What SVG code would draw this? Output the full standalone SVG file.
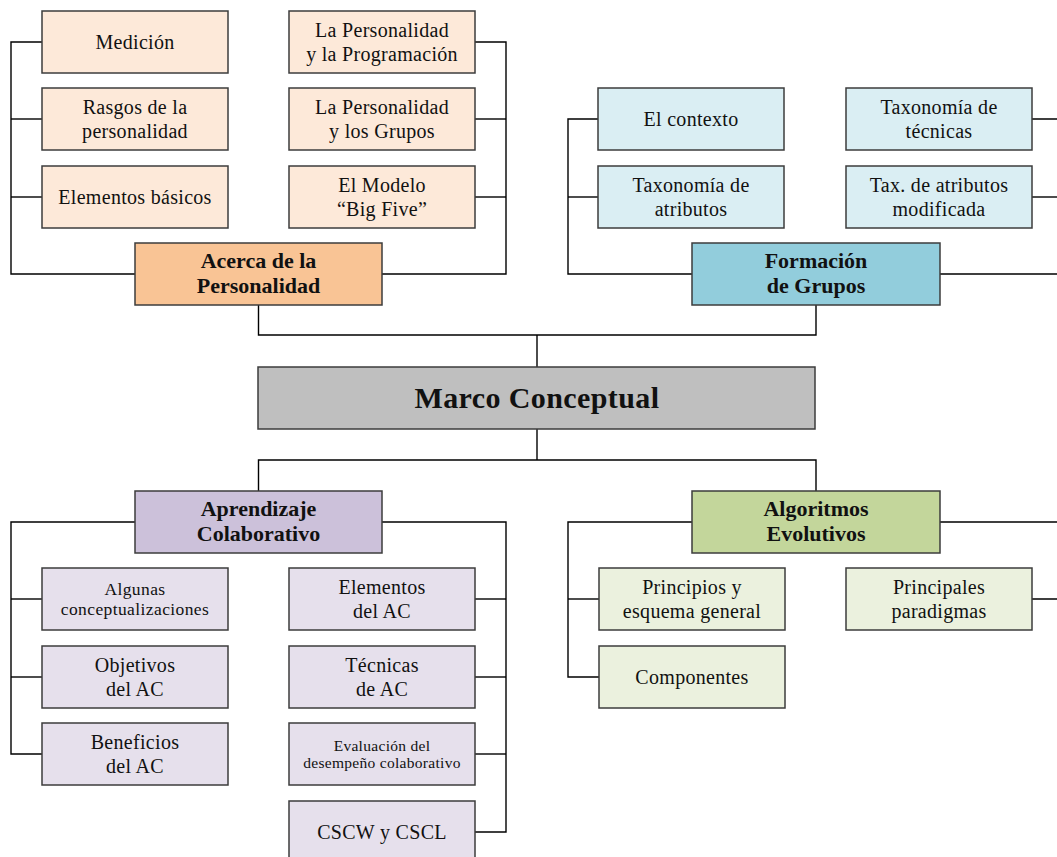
<svg xmlns="http://www.w3.org/2000/svg" width="1057" height="857" viewBox="0 0 1057 857">
  <style>
    .box { stroke: #3c3c3c; stroke-width: 1.5; }
    .conn { fill: none; stroke: #000; stroke-width: 1.4; }
    text { font-family: "Liberation Serif", "DejaVu Serif", serif; fill: #111; text-anchor: middle; }
    .t { font-size: 20px; letter-spacing: 0.3px; }
    .ts { font-size: 17.5px; letter-spacing: 0.4px; }
    .txs { font-size: 15.5px; letter-spacing: 0.3px; }
    .h { font-size: 22px; font-weight: bold; }
    .hm { font-size: 30px; font-weight: bold; letter-spacing: 0.4px; }
    .pers-main { fill: #f9c495; } .pers { fill: #fde9d9; }
    .grp-main { fill: #92cddc; } .grp { fill: #daeef3; }
    .ac-main { fill: #ccc1da; } .ac { fill: #e6e0ec; }
    .ae-main { fill: #c3d69b; } .ae { fill: #ebf1de; }
    .root { fill: #bfbfbf; }
  </style>

  <!-- connectors -->
  <g id="connectors" class="conn">
    <!-- hub -->
    <polyline points="258.5,305 258.5,335 816,335 816,305"/>
    <line x1="537" y1="335" x2="537" y2="367"/>
    <line x1="537" y1="429" x2="537" y2="460"/>
    <polyline points="258.5,491 258.5,460 816,460 816,491"/>
    <!-- Personalidad -->
    <polyline points="135,274 11,274 11,42 42,42"/>
    <line x1="11" y1="119" x2="42" y2="119"/>
    <line x1="11" y1="197" x2="42" y2="197"/>
    <polyline points="382,274 506,274 506,42 475,42"/>
    <line x1="506" y1="119" x2="475" y2="119"/>
    <line x1="506" y1="197" x2="475" y2="197"/>
    <!-- Grupos -->
    <polyline points="692,274 568,274 568,119 598,119"/>
    <line x1="568" y1="197" x2="598" y2="197"/>
    <polyline points="940,274 1062,274 1062,119 1032,119"/>
    <line x1="1062" y1="197" x2="1032" y2="197"/>
    <!-- Aprendizaje Colaborativo -->
    <polyline points="135,522 11,522 11,754 42,754"/>
    <line x1="11" y1="599" x2="42" y2="599"/>
    <line x1="11" y1="677" x2="42" y2="677"/>
    <polyline points="382,522 506,522 506,832 475,832"/>
    <line x1="506" y1="599" x2="475" y2="599"/>
    <line x1="506" y1="677" x2="475" y2="677"/>
    <line x1="506" y1="754" x2="475" y2="754"/>
    <!-- Algoritmos Evolutivos -->
    <polyline points="692,522 568,522 568,677 599,677"/>
    <line x1="568" y1="599" x2="599" y2="599"/>
    <polyline points="940,522 1062,522 1062,599 1032,599"/>
  </g>

  <!-- root -->
  <g id="marco">
    <rect class="box root" x="258" y="367" width="557" height="62"/>
    <text class="hm" x="537" y="408">Marco Conceptual</text>
  </g>

  <!-- Personalidad branch -->
  <g id="acerca">
    <rect class="box pers-main" x="135" y="243" width="247" height="62"/>
    <text class="h" x="258.5" y="267.5">Acerca de la</text>
    <text class="h" x="258.5" y="293">Personalidad</text>
  </g>
  <g id="medicion">
    <rect class="box pers" x="42" y="11" width="186" height="62"/>
    <text class="t" x="135" y="48.5">Medición</text>
  </g>
  <g id="rasgos">
    <rect class="box pers" x="42" y="88" width="186" height="62"/>
    <text class="t" x="135" y="113.5">Rasgos de la</text>
    <text class="t" x="135" y="137.5">personalidad</text>
  </g>
  <g id="elementos-basicos">
    <rect class="box pers" x="42" y="166" width="186" height="62"/>
    <text class="t" x="135" y="203.5">Elementos básicos</text>
  </g>
  <g id="pers-programacion">
    <rect class="box pers" x="289" y="11" width="186" height="62"/>
    <text class="t" x="382" y="36.5">La Personalidad</text>
    <text class="t" x="382" y="60.5">y la Programación</text>
  </g>
  <g id="pers-grupos">
    <rect class="box pers" x="289" y="88" width="186" height="62"/>
    <text class="t" x="382" y="113.5">La Personalidad</text>
    <text class="t" x="382" y="137.5">y los Grupos</text>
  </g>
  <g id="big-five">
    <rect class="box pers" x="289" y="166" width="186" height="62"/>
    <text class="t" x="382" y="191.5">El Modelo</text>
    <text class="t" x="382" y="215.5">“Big Five”</text>
  </g>

  <!-- Grupos branch -->
  <g id="formacion">
    <rect class="box grp-main" x="692" y="243" width="248" height="62"/>
    <text class="h" x="816" y="267.5">Formación</text>
    <text class="h" x="816" y="293">de Grupos</text>
  </g>
  <g id="contexto">
    <rect class="box grp" x="598" y="88" width="186" height="62"/>
    <text class="t" x="691" y="125.5">El contexto</text>
  </g>
  <g id="tax-atributos">
    <rect class="box grp" x="598" y="166" width="186" height="62"/>
    <text class="t" x="691" y="191.5">Taxonomía de</text>
    <text class="t" x="691" y="215.5">atributos</text>
  </g>
  <g id="tax-tecnicas">
    <rect class="box grp" x="846" y="88" width="186" height="62"/>
    <text class="t" x="939" y="113.5">Taxonomía de</text>
    <text class="t" x="939" y="137.5">técnicas</text>
  </g>
  <g id="tax-modificada">
    <rect class="box grp" x="846" y="166" width="186" height="62"/>
    <text class="t" x="939" y="191.5">Tax. de atributos</text>
    <text class="t" x="939" y="215.5">modificada</text>
  </g>

  <!-- Aprendizaje Colaborativo branch -->
  <g id="aprendizaje">
    <rect class="box ac-main" x="135" y="491" width="247" height="62"/>
    <text class="h" x="258.5" y="515.5">Aprendizaje</text>
    <text class="h" x="258.5" y="541">Colaborativo</text>
  </g>
  <g id="conceptualizaciones">
    <rect class="box ac" x="42" y="568" width="186" height="62"/>
    <text class="ts" x="135" y="595">Algunas</text>
    <text class="ts" x="135" y="614.5">conceptualizaciones</text>
  </g>
  <g id="objetivos">
    <rect class="box ac" x="42" y="646" width="186" height="62"/>
    <text class="t" x="135" y="671.5">Objetivos</text>
    <text class="t" x="135" y="695.5">del AC</text>
  </g>
  <g id="beneficios">
    <rect class="box ac" x="42" y="723" width="186" height="62"/>
    <text class="t" x="135" y="748.5">Beneficios</text>
    <text class="t" x="135" y="772.5">del AC</text>
  </g>
  <g id="elementos-ac">
    <rect class="box ac" x="289" y="568" width="186" height="62"/>
    <text class="t" x="382" y="593.5">Elementos</text>
    <text class="t" x="382" y="617.5">del AC</text>
  </g>
  <g id="tecnicas-ac">
    <rect class="box ac" x="289" y="646" width="186" height="62"/>
    <text class="t" x="382" y="671.5">Técnicas</text>
    <text class="t" x="382" y="695.5">de AC</text>
  </g>
  <g id="evaluacion">
    <rect class="box ac" x="289" y="723" width="186" height="62"/>
    <text class="txs" x="382" y="750.5">Evaluación del</text>
    <text class="txs" x="382" y="767.5">desempeño colaborativo</text>
  </g>
  <g id="cscw">
    <rect class="box ac" x="289" y="801" width="186" height="62"/>
    <text class="t" x="382" y="838.5">CSCW y CSCL</text>
  </g>

  <!-- Algoritmos Evolutivos branch -->
  <g id="algoritmos">
    <rect class="box ae-main" x="692" y="491" width="248" height="62"/>
    <text class="h" x="816" y="515.5">Algoritmos</text>
    <text class="h" x="816" y="541">Evolutivos</text>
  </g>
  <g id="principios">
    <rect class="box ae" x="599" y="568" width="186" height="62"/>
    <text class="t" x="692" y="593.5">Principios y</text>
    <text class="t" x="692" y="617.5">esquema general</text>
  </g>
  <g id="componentes">
    <rect class="box ae" x="599" y="646" width="186" height="62"/>
    <text class="t" x="692" y="683.5">Componentes</text>
  </g>
  <g id="paradigmas">
    <rect class="box ae" x="846" y="568" width="186" height="62"/>
    <text class="t" x="939" y="593.5">Principales</text>
    <text class="t" x="939" y="617.5">paradigmas</text>
  </g>
</svg>
